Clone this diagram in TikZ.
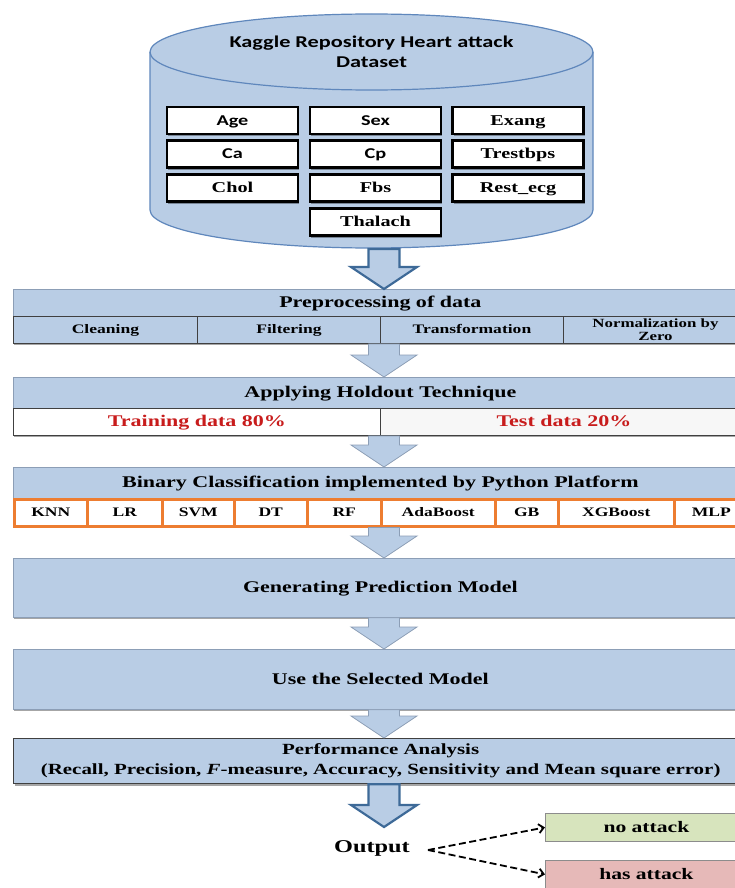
\documentclass[tikz,border=0pt]{standalone}
\usepackage{fontspec}
\setmainfont{Liberation Serif}[FakeStretch=1.35]
\newfontfamily\calfont{Carlito}[FakeStretch=1.35]
\usetikzlibrary{calc,shadows,arrows.meta}

\definecolor{boxblue}{RGB}{185,205,229}
\definecolor{cylline}{RGB}{95,135,188}
\definecolor{edgegray}{RGB}{140,158,182}
\definecolor{darkedge}{RGB}{62,106,152}
\definecolor{hotred}{RGB}{200,28,28}
\definecolor{algoorange}{RGB}{237,125,49}
\definecolor{noattack}{RGB}{215,228,189}
\definecolor{hasattack}{RGB}{230,185,184}

\tikzset{
  softshadow/.style={drop shadow={shadow xshift=1pt, shadow yshift=-2pt, opacity=0.35, fill=black}},
  attr/.style={draw=black, line width=2.2pt, fill=white, minimum width=131pt, minimum height=27pt,
    inner sep=0pt, text height=10.3pt, text depth=1.2pt, softshadow,
    font=\bfseries\fontsize{15}{17}\selectfont},
  head/.style={draw=edgegray, fill=boxblue, line width=0.7pt, minimum width=734pt, inner sep=0pt,
    text height=11pt, text depth=1.3pt,
    anchor=north west, softshadow, font=\bfseries\fontsize{16.3}{18}\selectfont},
  cell/.style={draw=black!75, fill=boxblue, line width=0.9pt, minimum height=27pt, inner sep=0pt,
    text height=9pt, text depth=1pt,
    anchor=north west, softshadow, font=\bfseries\fontsize{13}{13}\selectfont},
  split/.style={draw=black!75, line width=0.9pt, minimum height=27pt, inner sep=0pt,
    text height=11pt, text depth=1.3pt,
    anchor=north west, softshadow, text=hotred, font=\bfseries\fontsize{16.3}{18}\selectfont},
  algo/.style={draw=algoorange, fill=white, line width=2.5pt, minimum height=27pt, inner sep=0pt,
    text height=9pt, text depth=1pt,
    anchor=north west, font=\bfseries\fontsize{13}{15}\selectfont},
  result/.style={draw=black!45, line width=0.8pt, minimum width=202pt, minimum height=28pt,
    inner sep=0pt, text height=10.5pt, text depth=1.3pt,
    anchor=north west, font=\bfseries\fontsize{16}{18}\selectfont},
  lightarr/.style={fill=boxblue, draw=edgegray, line width=0.8pt},
  darkarr/.style={fill=boxblue, draw=darkedge, line width=2.2pt, line join=miter},
  outarr/.style={dash pattern=on 7pt off 3.5pt, line width=1.8pt, -{Straight Barb[length=5pt,width=9pt]}}
}

% block arrow pointing down: #2 top of shaft, #3 tip
\newcommand{\blockarr}[3][lightarr]{%
  \draw[#1] let \p1=#2, \p2=#3 in
    (\x1-15.5pt,\y1) -- (\x1+15.5pt,\y1) -- (\x1+15.5pt,\y2+22pt) -- (\x1+33pt,\y2+22pt)
    -- (\x1,\y2) -- (\x1-33pt,\y2+22pt) -- (\x1-15.5pt,\y2+22pt) -- cycle;}

\begin{document}
\begin{tikzpicture}[x=1pt,y=-1pt]
  \path[use as bounding box, fill=white] (0,0) rectangle (735,888);

  % dataset cylinder
  \draw[fill=boxblue, draw=cylline, line width=1.2pt]
    (150,52) -- (150,210) arc[start angle=180, end angle=360, x radius=221.5pt, y radius=38pt]
    -- (593,52) arc[start angle=0, end angle=180, x radius=221.5pt, y radius=38pt] -- cycle;
  \draw[draw=cylline, line width=1.2pt]
    (150,52) arc[start angle=180, end angle=360, x radius=221.5pt, y radius=38pt];
  \coordinate (cylbot) at (371.5,249);
  \coordinate (ax) at (384,0);
  \node[font=\calfont\bfseries\fontsize{16.5}{20}\selectfont, align=center] (dbname) at (371.5,52)
    {Kaggle Repository Heart attack\\Dataset};

  \node[attr, font=\calfont\bfseries\fontsize{15}{17}\selectfont] (age) at (232.5,120.5) {Age};
  \node[attr, font=\calfont\bfseries\fontsize{15}{17}\selectfont] (sex) at (375.5,120.5) {Sex};
  \node[attr] (exang) at (518,120.5) {Exang};
  \node[attr, font=\calfont\bfseries\fontsize{15}{17}\selectfont] (ca) at (232.5,154) {Ca};
  \node[attr, font=\calfont\bfseries\fontsize{15}{17}\selectfont] (cp) at (375.5,154) {Cp};
  \node[attr] (trestbps) at (518,154) {Trestbps};
  \node[attr] (chol) at (232.5,188) {Chol};
  \node[attr] (fbs) at (375.5,188) {Fbs};
  \node[attr] (restecg) at (518,188) {Rest\_ecg};
  \node[attr] (thalach) at (375.5,222) {Thalach};

  % preprocessing
  \node[head, minimum height=27pt] (preT) at (13,289) {Preprocessing of data};
  \node[cell, minimum width=184pt] (preA) at (13,316) {Cleaning};
  \node[cell, minimum width=183pt] (preB) at (197,316) {Filtering};
  \node[cell, minimum width=183pt] (preC) at (380,316) {Transformation};
  \node[cell, minimum width=184pt, align=center, text height=, text depth=,
    font=\bfseries\fontsize{12.5}{12.5}\selectfont] (preD) at (563,316) {Normalization by\\Zero};

  % holdout
  \node[head, minimum height=31pt] (holdT) at (13,377) {Applying Holdout Technique};
  \node[split, fill=white, minimum width=367pt] (train) at (13,408) {Training data 80\%};
  \node[split, fill=black!3, minimum width=367pt] (test) at (380,408) {Test data 20\%};

  % classifiers
  \node[head, minimum height=31pt] (binT) at (13,467) {Binary Classification implemented by Python Platform};
  \foreach \x/\w/\t/\n in {13/73/KNN/knn, 86/75/LR/lr, 161/72/SVM/svm, 233/73/DT/dt, 306/74/RF/rf,
      380/114/AdaBoost/ada, 494/63/GB/gb, 557/116/XGBoost/xgb, 673/74/MLP/mlp}
    \node[algo, minimum width=\w pt] (\n) at (\x,498) {\t};

  \node[head, minimum height=59pt] (gen) at (13,558) {Generating Prediction Model};
  \node[head, minimum height=60pt] (use) at (13,649) {Use the Selected Model};
  \node[head, draw=black!75, line width=1.3pt, minimum height=45pt, align=center,
    text height=, text depth=, font=\bfseries\fontsize{15.5}{20}\selectfont] (perf) at (13,738)
    {Performance Analysis\\(Recall, Precision, \textit{F}-measure, Accuracy, Sensitivity and Mean square error)};

  % arrows between the stages
  \blockarr[darkarr]{(cylbot -| ax)}{(preT.north -| ax)}
  \blockarr{(preA.south -| ax)}{(holdT.north -| ax)}
  \blockarr{(train.south -| ax)}{(binT.north -| ax)}
  \blockarr{(knn.south -| ax)}{(gen.north -| ax)}
  \blockarr{(gen.south -| ax)}{(use.north -| ax)}
  \blockarr{(use.south -| ax)}{(perf.north -| ax)}
  \coordinate (outtip) at (384,827);
  \blockarr[darkarr]{(perf.south -| ax)}{(outtip)}

  % output
  \node[font=\bfseries\fontsize{18}{20}\selectfont] (out) at (372,848) {Output};
  \coordinate (fork) at (428,850);
  \node[result, fill=noattack] (no) at (545,813) {no attack};
  \node[result, fill=hasattack] (has) at (545,860) {has attack};
  \draw[outarr] (fork) -- (no.west);
  \draw[outarr] (fork) -- (has.west);
\end{tikzpicture}
\end{document}
